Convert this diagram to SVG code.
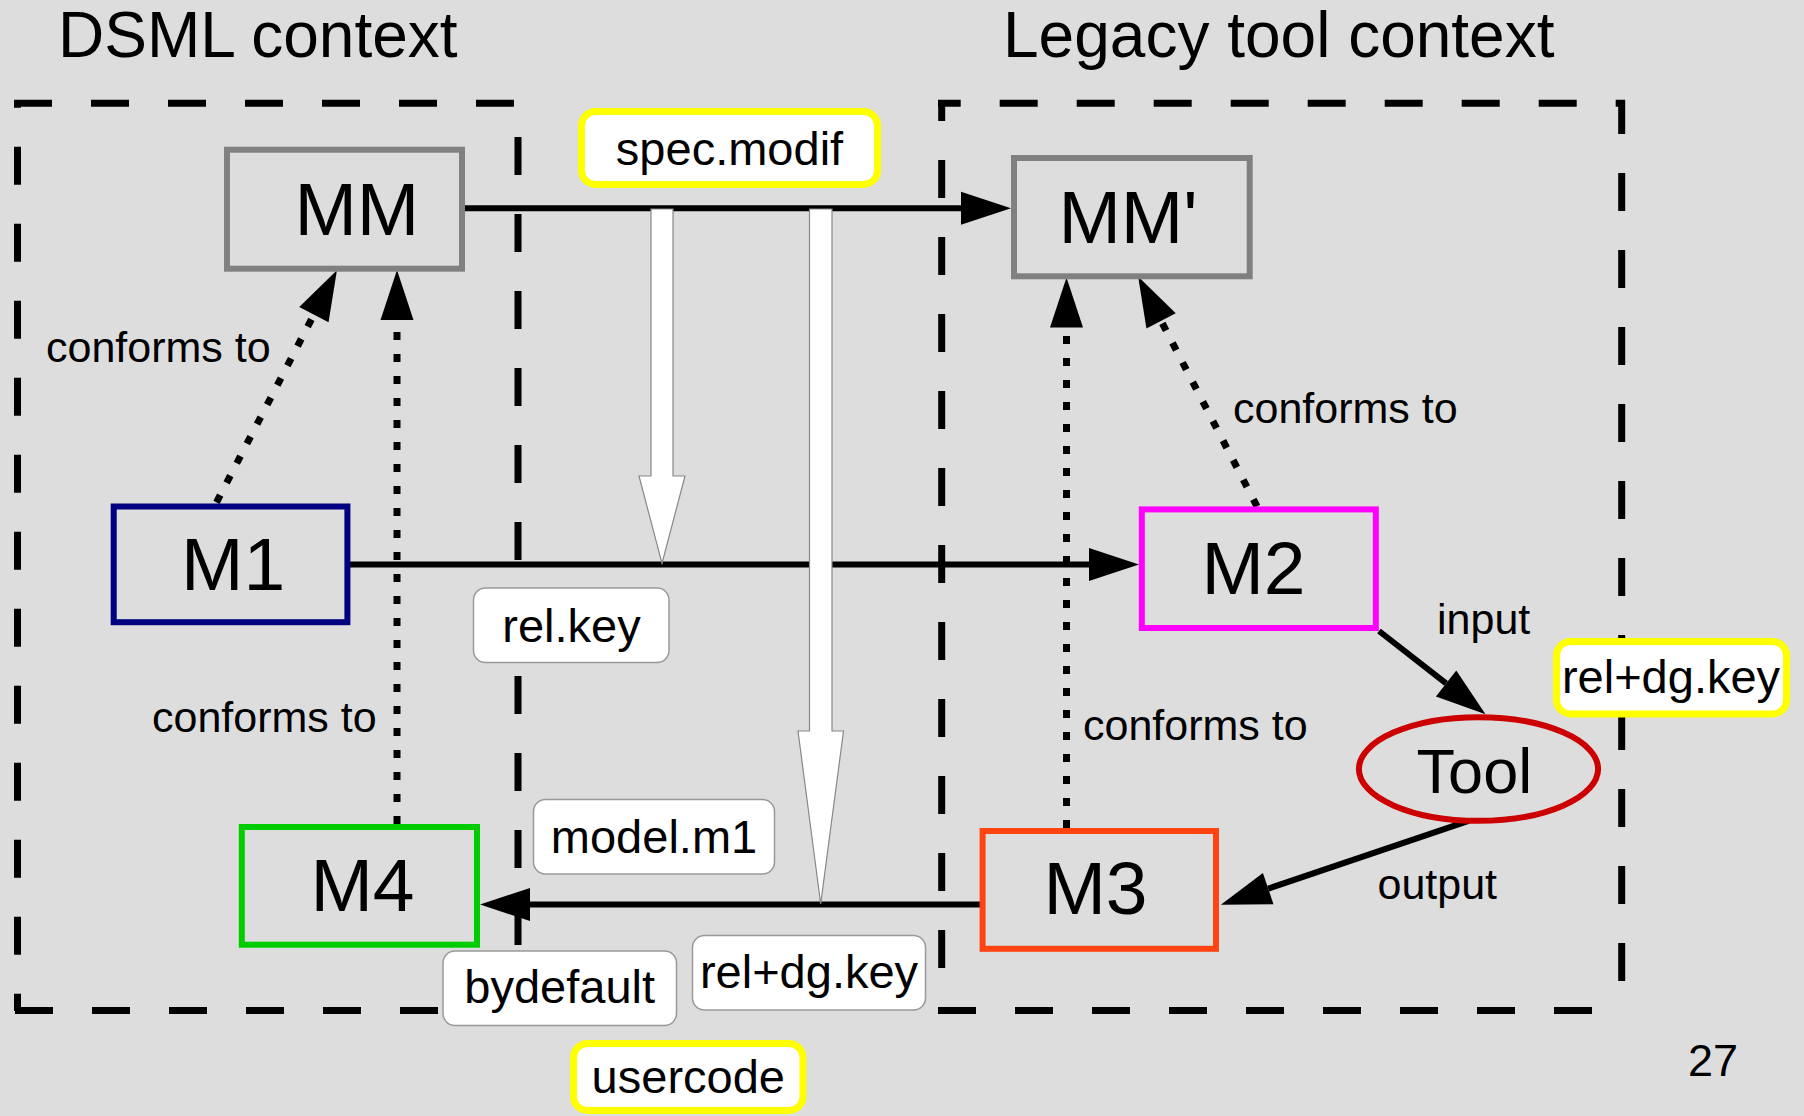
<svg xmlns="http://www.w3.org/2000/svg" width="1804" height="1116" viewBox="0 0 1804 1116">
  <defs>
    <style>
      text { font-family: "Liberation Sans", Arial, sans-serif; fill: #000; }
      .title { font-size: 64px; }
      .node-label { font-size: 75px; }
      .edge-label { font-size: 43px; }
      .tag-label { font-size: 47px; text-anchor: middle; }
      .frame { fill: none; stroke: #000; stroke-width: 7; stroke-dasharray: 38 39; }
      .node { fill: none; stroke-width: 6; }
      .tag { fill: #fff; stroke: #999; stroke-width: 1.5; }
      .tag-hl { fill: #fff; stroke: #ffff00; stroke-width: 7; }
      .solid { fill: none; stroke: #000; stroke-width: 6; marker-end: url(#head); }
      .dotted { fill: none; stroke: #000; stroke-width: 7; stroke-dasharray: 8 14; marker-end: url(#head); }
      .block { fill: #fff; stroke: #888; stroke-width: 1.2; }
    </style>
    <marker id="head" markerUnits="userSpaceOnUse" markerWidth="52" markerHeight="36" refX="0" refY="16.5" orient="auto" overflow="visible">
      <path d="M0,0 L50,16.5 L0,33 Z" fill="#000"/>
    </marker>
  </defs>

  <rect x="0" y="0" width="1804" height="1116" fill="#dddddd"/>

  <!-- context titles -->
  <text class="title" x="58" y="57">DSML context</text>
  <text class="title" x="1003" y="57">Legacy tool context</text>

  <!-- dashed context frames -->
  <g id="frame-dsml">
    <line class="frame" x1="14" y1="103.3" x2="514" y2="103.3"/>
    <line class="frame" x1="17.5" y1="100" x2="17.5" y2="1011" stroke-dashoffset="30.3"/>
    <line class="frame" x1="518" y1="137" x2="518" y2="1010"/>
    <line class="frame" x1="15" y1="1010.5" x2="520" y2="1010.5" stroke-dasharray="21 41 38 39 38 38 38 9 39 39 38 39 38 39"/>
  </g>
  <g id="frame-legacy">
    <line class="frame" x1="938" y1="103.3" x2="1625" y2="103.3" stroke-dashoffset="15.3"/>
    <line class="frame" x1="941.7" y1="100" x2="941.7" y2="1011" stroke-dashoffset="17"/>
    <line class="frame" x1="1621.7" y1="100" x2="1621.7" y2="1011" stroke-dashoffset="4"/>
    <line class="frame" x1="938" y1="1010.6" x2="1613" y2="1010.6" stroke-dasharray="36 39 38 39 38 38 39 39 63 40 37 39 38 39 38 38 37"/>
  </g>

  <!-- connectors -->
  <g id="connectors">
    <path class="solid" d="M465,208.3 L961,208.3"/>
    <path class="solid" d="M350,564.4 L1089,564.4"/>
    <path class="solid" d="M980,904.5 L530,904.5"/>
    <path class="solid" d="M1379,631 L1446.1,683.4"/>
    <path class="solid" d="M1468.5,820.8 L1268.2,888.6"/>
    <path class="dotted" d="M216.5,502.3 L313.9,314.6"/>
    <path class="dotted" d="M397,824 L397,320"/>
    <path class="dotted" d="M1066.5,828 L1066.5,327.5"/>
    <path class="dotted" d="M1257,506.4 L1161.1,320.9"/>
    <!-- hollow transformation arrows -->
    <path class="block" d="M651,209 L673,209 L673,476 L685,476 L662,563.5 L639,476 L651,476 Z"/>
    <path class="block" d="M809.5,209 L832,209 L832,731 L843.5,731 L820.7,904 L798,731 L809.5,731 Z"/>
  </g>

  <!-- nodes -->
  <g id="node-mm">
    <rect class="node" x="227" y="149.7" width="235" height="119" stroke="#808080"/>
    <text class="node-label" x="294.4" y="235">MM</text>
  </g>
  <g id="node-mm-prime">
    <rect class="node" x="1014" y="158" width="235.7" height="118.3" stroke="#808080"/>
    <text class="node-label" x="1058.4" y="242.7">MM'</text>
  </g>
  <g id="node-m1">
    <rect class="node" x="113.7" y="506.5" width="233.7" height="115.7" stroke="#000080"/>
    <text class="node-label" x="181" y="589.5">M1</text>
  </g>
  <g id="node-m2">
    <rect class="node" x="1141.8" y="509.4" width="234" height="118.6" stroke="#ff00ff"/>
    <text class="node-label" x="1201.4" y="593.6">M2</text>
  </g>
  <g id="node-m3">
    <rect class="node" x="982.6" y="831" width="233.4" height="117.8" stroke="#ff4411"/>
    <text class="node-label" x="1043.4" y="914">M3</text>
  </g>
  <g id="node-m4">
    <rect class="node" x="241.8" y="827" width="235.2" height="117.7" stroke="#00cc00"/>
    <text class="node-label" x="310.4" y="910.8">M4</text>
  </g>
  <g id="node-tool">
    <ellipse class="node" cx="1478.5" cy="769" rx="119.6" ry="51.8" stroke="#cc0000"/>
    <text x="1416.6" y="793" style="font-size:63px">Tool</text>
  </g>

  <!-- edge labels -->
  <g id="edge-labels">
    <text class="edge-label" x="46" y="361.7">conforms to</text>
    <text class="edge-label" x="1233" y="423.3">conforms to</text>
    <text class="edge-label" x="152" y="731.5">conforms to</text>
    <text class="edge-label" x="1083" y="739.6">conforms to</text>
    <text class="edge-label" x="1437" y="634">input</text>
    <text class="edge-label" x="1377.5" y="898.7">output</text>
  </g>

  <!-- tags -->
  <g id="tag-spec-modif">
    <rect class="tag-hl" x="581.5" y="111.5" width="296" height="73" rx="14"/>
    <text class="tag-label" x="729.5" y="165">spec.modif</text>
  </g>
  <g id="tag-rel-key">
    <rect class="tag" x="473.5" y="588" width="195.5" height="74.5" rx="12"/>
    <text class="tag-label" x="571.5" y="641.5">rel.key</text>
  </g>
  <g id="tag-model-m1">
    <rect class="tag" x="533.5" y="799.5" width="241" height="74.5" rx="12"/>
    <text class="tag-label" x="654" y="852.7">model.m1</text>
  </g>
  <g id="tag-bydefault">
    <rect class="tag" x="443" y="951" width="233.5" height="74.5" rx="12"/>
    <text class="tag-label" x="559.7" y="1002.7">bydefault</text>
  </g>
  <g id="tag-rel-dg-key">
    <rect class="tag" x="692.5" y="935.5" width="233" height="74.5" rx="12"/>
    <text class="tag-label" x="809" y="988.3">rel+dg.key</text>
  </g>
  <g id="tag-usercode">
    <rect class="tag-hl" x="573.5" y="1043.5" width="229.5" height="67" rx="14"/>
    <text class="tag-label" x="688.3" y="1093.3">usercode</text>
  </g>
  <g id="tag-rel-dg-key-tool">
    <rect class="tag-hl" x="1556.5" y="641.5" width="230" height="72.5" rx="14"/>
    <text class="tag-label" x="1671" y="693">rel+dg.key</text>
  </g>

  <!-- page number -->
  <text x="1713" y="1076" style="font-size:45px;text-anchor:middle">27</text>
</svg>
